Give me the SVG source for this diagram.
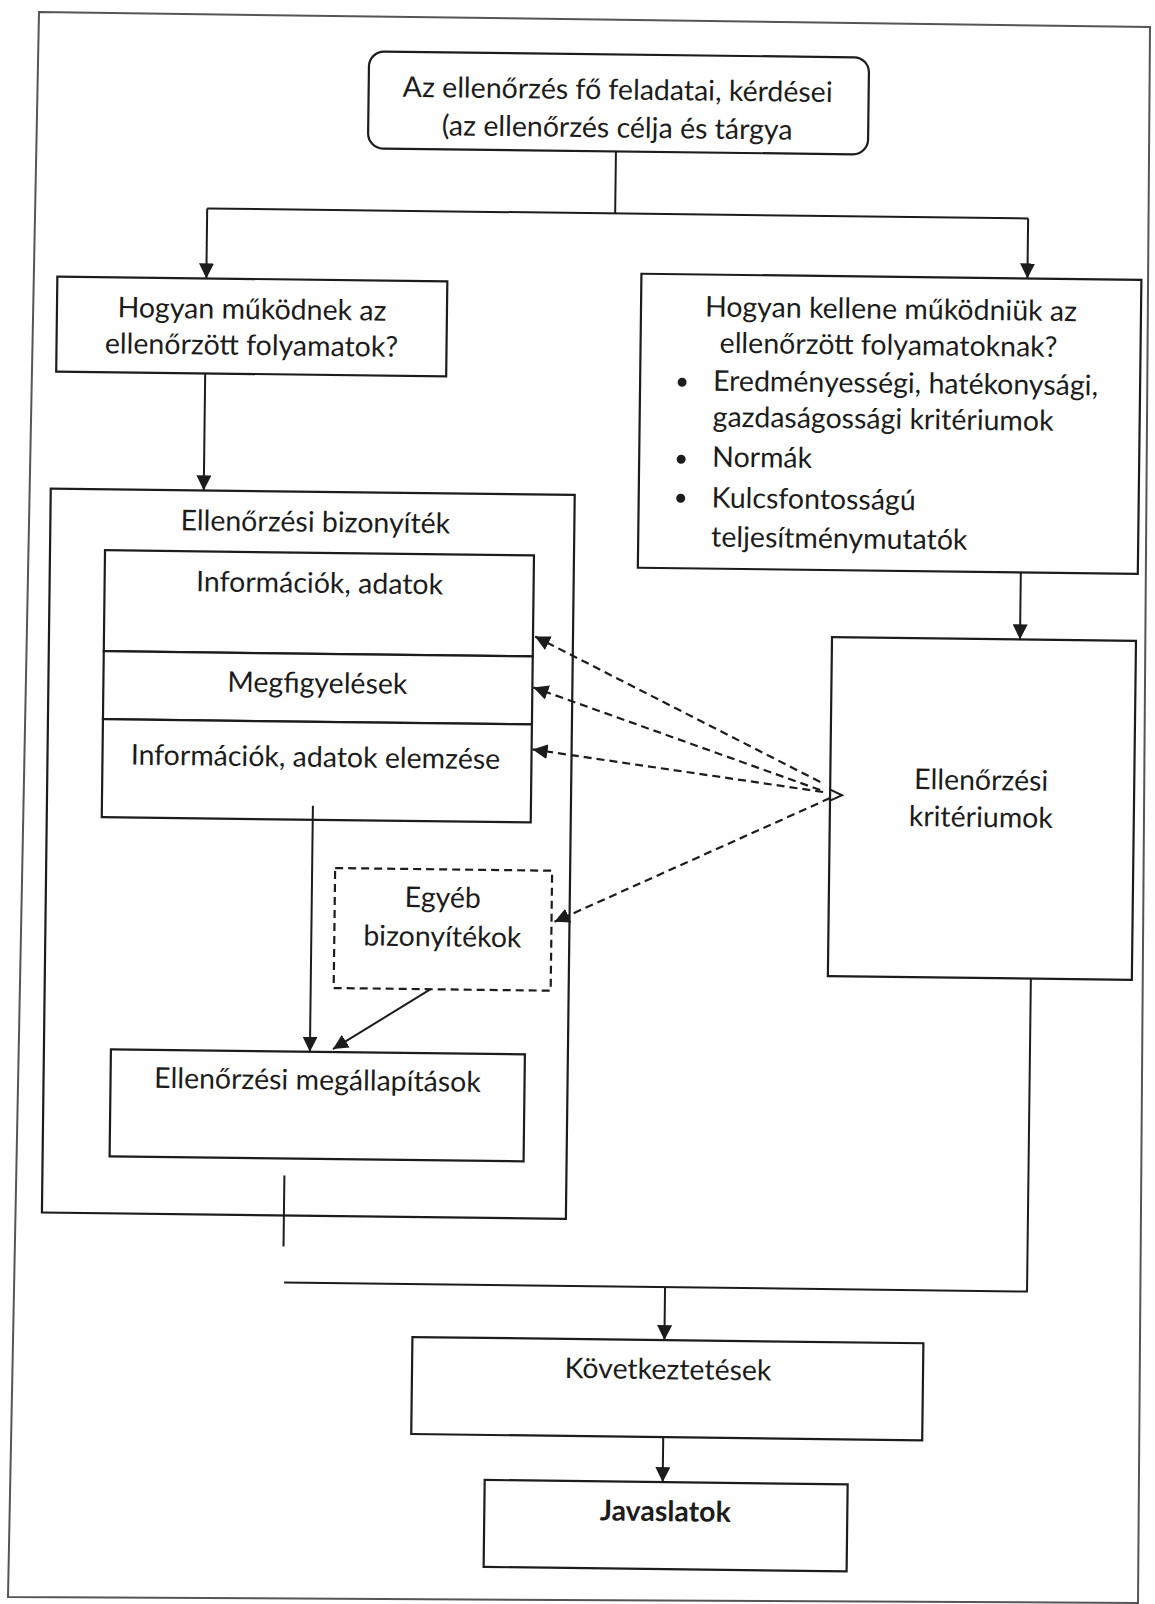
<svg xmlns="http://www.w3.org/2000/svg" width="1155" height="1604" viewBox="0 0 1155 1604">
<style>
.box{fill:#fff;stroke:#1c1c1c;stroke-width:2.2}
.dbox{fill:#fff;stroke:#1c1c1c;stroke-width:2.2;stroke-dasharray:8 5}
.t{font-family:Lato,"Liberation Sans",sans-serif;font-size:28.5px;fill:#1c1c1c;text-anchor:middle}
.tl{font-family:Lato,"Liberation Sans",sans-serif;font-size:28.5px;fill:#1c1c1c;text-anchor:start}
.b{font-weight:bold}
.ln{stroke:#1c1c1c;stroke-width:2;fill:none}
.dash{stroke:#1c1c1c;stroke-width:2.2;fill:none;stroke-dasharray:8 5}
.frame{fill:none;stroke:#555;stroke-width:2}
</style>
<defs>
<marker id="ah" markerUnits="userSpaceOnUse" markerWidth="15" markerHeight="15" viewBox="0 0 15 15" refX="15" refY="7.5" orient="auto">
<path d="M0,0 L15,7.5 L0,15 z" fill="#1c1c1c"/>
</marker>
</defs>
<rect width="1155" height="1604" fill="#fff"/>
<polygon class="frame" points="39,12 1150,27 1138,1603 8,1597"/>
<g transform="rotate(0.7 577 800)">
<g id="n-top">
<rect class="box" x="360" y="54" width="500" height="97" rx="15"/>
<text class="t" x="609" y="99">Az ellenőrzés fő feladatai, kérdései</text>
<text class="t" x="609" y="137">(az ellenőrzés célja és tárgya</text>
</g>
<g id="n-how">
<rect class="box" x="51" y="283" width="390" height="95"/>
<text class="t" x="246" y="323">Hogyan működnek az</text>
<text class="t" x="246" y="359">ellenőrzött folyamatok?</text>
</g>
<g id="n-should">
<rect class="box" x="635" y="273" width="500" height="294"/>
<text class="t" x="885" y="315">Hogyan kellene működniük az</text>
<text class="t" x="883" y="351">ellenőrzött folyamatoknak?</text>
<circle cx="677" cy="381" r="4.5" fill="#1c1c1c"/>
<circle cx="677" cy="458" r="4.5" fill="#1c1c1c"/>
<circle cx="677" cy="497" r="4.5" fill="#1c1c1c"/>
<text class="tl" x="708" y="389">Eredményességi, hatékonysági,</text>
<text class="tl" x="708" y="425">gazdaságossági kritériumok</text>
<text class="tl" x="708" y="465">Normák</text>
<text class="tl" x="708" y="506">Kulcsfontosságú</text>
<text class="tl" x="708" y="545">teljesítménymutatók</text>
</g>
<g id="n-evidence">
<rect class="box" x="47" y="495" width="524" height="724"/>
<text class="t" x="312" y="535">Ellenőrzési bizonyíték</text>
</g>
<g id="n-info">
<rect class="box" x="102" y="556" width="429" height="101"/>
<text class="t" x="317" y="596">Információk, adatok</text>
</g>
<g id="n-obs">
<rect class="box" x="102" y="657" width="429" height="68"/>
<text class="t" x="316" y="696">Megfigyelések</text>
</g>
<g id="n-analysis">
<rect class="box" x="102" y="725" width="429" height="98"/>
<text class="t" x="315" y="770">Információk, adatok elemzése</text>
</g>
<g id="n-other">
<rect class="dbox" x="336" y="871" width="217" height="120"/>
<text class="t" x="444" y="909">Egyéb</text>
<text class="t" x="444" y="948">bizonyítékok</text>
</g>
<g id="n-findings">
<rect class="box" x="114" y="1055" width="414" height="107"/>
<text class="t" x="321" y="1093">Ellenőrzési megállapítások</text>
</g>
<g id="n-criteria">
<rect class="box" x="830" y="634" width="304" height="339"/>
<text class="t" x="981" y="785">Ellenőrzési</text>
<text class="t" x="981" y="822">kritériumok</text>
</g>
<g id="n-concl">
<rect class="box" x="419" y="1339" width="511" height="97"/>
<text class="t" x="675" y="1378">Következtetések</text>
</g>
<g id="n-rec">
<rect class="box" x="493" y="1481" width="363" height="87"/>
<text class="t b" x="674" y="1520">Javaslatok</text>
</g>
<g id="connectors">
<path class="ln" d="M608,151 V213 M200,213 H1021"/>
<path class="ln" d="M200,213 V283" marker-end="url(#ah)"/>
<path class="ln" d="M1021,213 V273" marker-end="url(#ah)"/>
<path class="ln" d="M200,378 V495" marker-end="url(#ah)"/>
<path class="ln" d="M1018,567 V634" marker-end="url(#ah)"/>
<path class="ln" d="M313,809 V1055" marker-end="url(#ah)"/>
<path class="ln" d="M433,991 L336,1052" marker-end="url(#ah)"/>
<path class="dash" d="M820,779 L533,637" marker-end="url(#ah)"/>
<path class="dash" d="M820,787 L532,688" marker-end="url(#ah)"/>
<path class="dash" d="M823,789 L532,750" marker-end="url(#ah)"/>
<path class="dash" d="M830,795 L556,922" marker-end="url(#ah)"/>
<path class="ln" d="M829,786 L842,792 L829,798"/>
<path class="ln" d="M289,1179 V1250"/>
<path class="ln" d="M290,1286 H1033 V973"/>
<path class="ln" d="M671,1286 V1339" marker-end="url(#ah)"/>
<path class="ln" d="M671,1436 V1481" marker-end="url(#ah)"/>
</g>
</g>
</svg>
